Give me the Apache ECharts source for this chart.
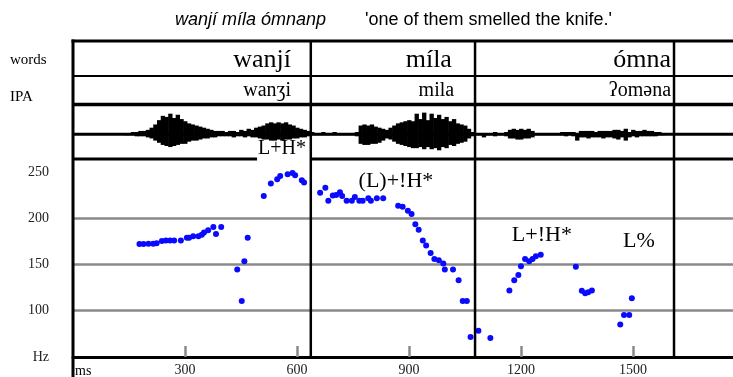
<!DOCTYPE html>
<html>
<head>
<meta charset="utf-8">
<script src="https://cdn.jsdelivr.net/npm/echarts@6/dist/echarts.min.js"></script>
<style>
  html, body { margin: 0; padding: 0; background: #fff; }
  #chart { width: 733px; height: 377px; }
</style>
</head>
<body>
<div id="chart"></div>
<script>
// F0 track: time (ms) and pitch (Hz)
const pitchMs = [
  178, 189, 202, 215, 224, 238, 249, 260, 271, 289, 305, 311, 322, 336, 345, 351, 362, 376, 383, 397,
  440, 452, 459, 468, 511, 530, 547, 555, 575, 588, 595, 613, 619,
  662, 676, 684, 696, 705, 715, 721, 733, 747, 755, 767, 776, 791, 798, 814, 831,
  871, 883, 897, 907, 917, 926, 937, 946, 958, 968, 980, 992, 996, 1018, 1033, 1044, 1055,
  1065, 1086, 1118,
  1169, 1182, 1193, 1200, 1211, 1222, 1231, 1240, 1253, 1347, 1363, 1372, 1380, 1390,
  1466, 1476, 1490, 1497
];
const pitchHz = [
  172, 172, 172.5, 172.5, 173, 175.5, 176, 176, 176, 176, 179, 179, 180.5, 180.5, 182, 184.5, 187, 190.5, 183, 190.5,
  144.5, 110.5, 153.5, 179, 224, 237.5, 242, 245.5, 247.5, 249, 246.5, 241, 238.5,
  227.5, 233, 219, 224.5, 225, 228, 224, 219, 219, 223, 219, 219, 221.5, 219, 221.5, 221.5,
  213.5, 212.5, 208, 204.5, 193.5, 187.5, 176, 170.5, 162.5, 156, 154.5, 151, 144.5, 144.5, 133, 110.5, 110.5,
  71.5, 78.5, 70.5,
  122, 133, 138.5, 148, 156, 153.5, 156, 159, 160.5, 147.5, 121.5, 119, 120, 122,
  85, 95.5, 95.5, 113.5
];

// Oscillogram envelope, one sample every 10 ms starting at 140 ms
const waveStartMs = 140;
const waveStepMs = 10;
const waveUp = [
  1, 1, 2, 2, 3, 3, 4, 6, 9, 13, 17, 16, 19, 15, 18, 14, 12, 10, 9, 8,
  7, 6, 5, 4, 3, 3, 3, 2, 3, 3, 2, 4, 3, 5, 4, 6, 7, 8, 10, 11,
  10, 11, 10, 11, 9, 8, 6, 5, 4, 3, 2, 1, 1, 2, 1, 1, 2, 1, 1, 1,
  1, 1, 2, 8, 9, 8, 9, 7, 6, 5, 4, 6, 8, 10, 11, 12, 13, 12, 19, 14,
  20, 13, 19, 15, 18, 14, 16, 12, 14, 10, 9, 8, 5, 2, 1, 0, 1, 1, 1, 2,
  1, 1, 2, 4, 5, 4, 5, 4, 5, 3, 1, 1, 1, 1, 1, 1, 1, 2, 2, 2,
  2, 1, 3, 3, 3, 3, 2, 3, 3, 3, 3, 4, 4, 3, 5, 2, 4, 3, 3, 4,
  3, 3, 2, 2, 1
];
const waveDown = [
  1, 1, 1, 2, 2, 2, 3, 4, 6, 8, 10, 11, 12, 11, 10, 9, 9, 7, 6, 6,
  5, 4, 4, 3, 3, 2, 2, 2, 2, 3, 2, 2, 3, 2, 3, 3, 4, 5, 5, 6,
  6, 5, 6, 5, 5, 4, 4, 3, 3, 2, 1, 1, 1, 1, 1, 1, 1, 1, 1, 1,
  1, 1, 2, 9, 10, 10, 9, 9, 8, 6, 4, 5, 7, 9, 10, 11, 12, 13, 13, 12,
  14, 12, 14, 13, 15, 12, 13, 10, 11, 9, 8, 7, 4, 2, 1, 1, 3, 1, 1, 2,
  1, 1, 2, 4, 4, 5, 5, 4, 4, 3, 1, 1, 1, 1, 1, 1, 1, 1, 2, 1,
  2, 6, 3, 3, 4, 3, 3, 3, 4, 3, 3, 4, 5, 3, 6, 3, 2, 3, 2, 2,
  2, 2, 2, 1, 1
];

// Annotation tiers (text is right-aligned at the given time)
const wordBoundaryMs = [637, 1077, 1610];
const words = ['wanjí', 'míla', 'ómna'];
const wordEndMs = [584, 1015, 1602];
const ipaWords = ['wanʒi', 'mila', 'ʔoməna'];
const ipaEndMs = [584, 1021, 1602];
const toneLabels = ['(L)+!H*', 'L+!H*', 'L%'];
const toneAtMs = [865, 1256, 1516];
const toneAtHz = [240, 182, 175];
const accentLabel = 'L+H*';
const accentAtMs = 560;

// Axes
const xMaxMs = 1768;
const xTickStep = 300;
const yMinHz = 50;
const yMaxHz = 264;
const yTickStep = 50;
const gridHz = [100, 150, 200];

const title = 'wanjí míla ómnanp';
const gloss = "'one of them smelled the knife.'";

const SERIF = '"Liberation Serif", "DejaVu Serif", serif';
const SANS = '"Liberation Sans", Arial, sans-serif';
const GRAY = '#8a8a8a';

const chart = echarts.init(document.getElementById('chart'), null, { renderer: 'canvas' });

const waveData = waveUp.map((u, i) => [waveStartMs + i * waveStepMs, u, waveDown[i]]);
const pitchData = pitchMs.map((t, i) => [t, pitchHz[i]]);

chart.setOption({
  animation: false,
  backgroundColor: '#fff',
  grid: [
    { left: 73, right: 0, top: 159, bottom: 18 },
    { left: 73, right: 0, top: 104, height: 56 }
  ],
  xAxis: [
    {
      gridIndex: 0, type: 'value', min: 0, max: xMaxMs, interval: xTickStep,
      axisLine: { show: true, lineStyle: { color: '#000', width: 3 } },
      axisTick: { show: true, inside: true, length: 11, lineStyle: { color: GRAY, width: 2.5 } },
      axisLabel: {
        show: true, showMinLabel: false, showMaxLabel: false, margin: 6,
        fontFamily: SERIF, fontSize: 14, color: '#222',
        formatter: v => (v > 0 && v % xTickStep === 0 ? String(v) : '')
      },
      splitLine: { show: false }
    },
    {
      gridIndex: 1, type: 'value', min: 0, max: xMaxMs, show: false
    }
  ],
  yAxis: [
    {
      gridIndex: 0, type: 'value', min: yMinHz, max: yMaxHz, interval: yTickStep,
      axisLine: { show: false },
      axisTick: { show: false },
      axisLabel: {
        show: true, margin: 24, fontFamily: SERIF, fontSize: 14, color: '#222',
        showMaxLabel: false,
        formatter: v => (v === yMinHz ? 'Hz' : String(v))
      },
      splitLine: { show: false }
    },
    {
      gridIndex: 1, type: 'value', min: -24, max: 28, show: false
    }
  ],
  series: [
    {
      type: 'custom',
      xAxisIndex: 1, yAxisIndex: 1,
      silent: true,
      data: waveData,
      renderItem: function (params, api) {
        const t = api.value(0);
        const top = api.coord([t, api.value(1)]);
        const bot = api.coord([t, -api.value(2)]);
        const w = api.size([waveStepMs, 0])[0];
        return {
          type: 'rect',
          shape: { x: top[0] - w / 2, y: top[1], width: w + 0.6, height: Math.max(1, bot[1] - top[1]) },
          style: { fill: '#000' }
        };
      },
      z: 3
    },
    {
      type: 'scatter',
      xAxisIndex: 0, yAxisIndex: 0,
      data: pitchData,
      symbol: 'circle',
      symbolSize: 6,
      itemStyle: { color: '#0a0aff', opacity: 1 },
      silent: true,
      z: 5,
      markLine: {
        silent: true,
        symbol: ['none', 'none'],
        label: { show: false },
        lineStyle: { color: GRAY, width: 2.5, type: 'solid' },
        data: gridHz.map(h => ({ yAxis: h })),
        z: 1
      }
    }
  ]
});

// Frame, tier lines and text annotations placed on the shared time axis
function px(ms) { return chart.convertToPixel({ xAxisIndex: 0 }, ms); }
function pt(ms, hz) { return chart.convertToPixel({ xAxisIndex: 0, yAxisIndex: 0 }, [ms, hz]); }

const W = 733;
const left = px(0);
const frameTop = 41;
const wordsDiv = 76;
const waveTop = 104.5;
const waveMid = chart.convertToPixel({ yAxisIndex: 1 }, 0);
const toneBottom = 159;
const axisY = 359;

const measure = document.createElement('canvas').getContext('2d');
const accentFont = '20px ' + SERIF;
measure.font = accentFont;
const accentW = measure.measureText(accentLabel).width;
const accentX = px(accentAtMs);

function hline(y, x1, x2, w) {
  return { type: 'line', silent: true, z: 10, shape: { x1: x1, y1: y, x2: x2, y2: y }, style: { stroke: '#000', lineWidth: w } };
}
function vline(x, y1, y2, w) {
  return { type: 'line', silent: true, z: 10, shape: { x1: x, y1: y1, x2: x, y2: y2 }, style: { stroke: '#000', lineWidth: w } };
}
function text(str, x, y, font, align, style) {
  return {
    type: 'text', silent: true, z: 12,
    style: Object.assign({
      text: str, x: x, y: y, font: font, fill: '#000',
      align: align, textAlign: align, verticalAlign: 'middle', textVerticalAlign: 'middle'
    }, style || {})
  };
}

const g = [];
g.push(hline(frameTop, left - 1.5, W, 3));
g.push(hline(wordsDiv, left, W, 2));
g.push(hline(waveTop, left, W, 3.5));
g.push(hline(waveMid, left, W, 3));
g.push(hline(toneBottom, left, accentX - accentW / 2 - 1, 3));
g.push(hline(toneBottom, px(wordBoundaryMs[0]), W, 3));
g.push(vline(left, frameTop - 1.5, 377, 3));
wordBoundaryMs.forEach(ms => g.push(vline(px(ms), frameTop, axisY, 2.5)));

// Title line
g.push(text(title, 175, 20, 'italic 18px ' + SANS, 'left'));
g.push(text(gloss, 365, 20, '18px ' + SANS, 'left'));

// Tier names
g.push(text('words', 10, 60, '15px ' + SERIF, 'left'));
g.push(text('IPA', 10, 97, '15px ' + SERIF, 'left'));
g.push(text('ms', left + 2, 371, '14px ' + SERIF, 'left'));

// Words and IPA transcriptions
words.forEach((w, i) => g.push(text(w, px(wordEndMs[i]), 60, '26px ' + SERIF, 'right')));
ipaWords.forEach((w, i) => g.push(text(w, px(ipaEndMs[i]), 91, '20px ' + SERIF, 'right')));

// Tonal annotation
g.push(text(accentLabel, accentX, 149, accentFont, 'center'));
toneLabels.forEach((s, i) => {
  const p = pt(toneAtMs[i], toneAtHz[i]);
  g.push(text(s, p[0], p[1], '22px ' + SERIF, 'center'));
});

chart.setOption({ graphic: { elements: g } });
</script>
</body>
</html>
